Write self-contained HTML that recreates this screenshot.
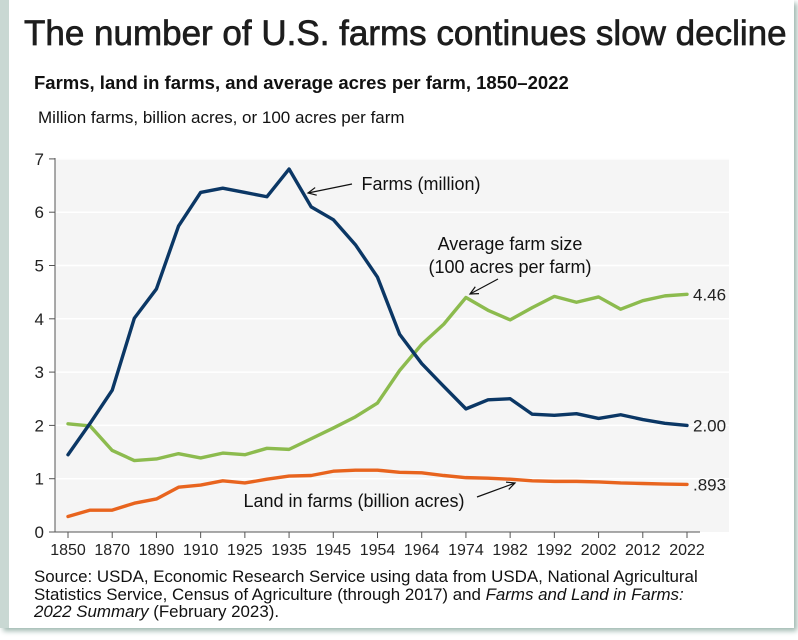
<!DOCTYPE html>
<html><head><meta charset="utf-8"><style>
body{margin:0;width:798px;height:640px;background:#fff;overflow:hidden;font-family:"Liberation Sans",sans-serif;position:relative}
.frame{position:absolute;left:0;top:0;width:785px;height:628px;background:#fff;box-shadow:3px 3px 5px #9fb8b0;border-left:9px solid #c9d8d3}
.t{position:absolute;white-space:nowrap;color:#111}
</style></head><body>
<div class="frame"></div>
<div class="t" style="left:24px;top:14px;font-size:35px;color:#1d1d1d;-webkit-text-stroke:0.7px #1d1d1d">The number of U.S. farms continues slow decline</div>
<div class="t" style="left:34px;top:72px;font-size:18.5px;font-weight:bold">Farms, land in farms, and average acres per farm, 1850–2022</div>
<div class="t" style="left:38px;top:108px;font-size:17px">Million farms, billion acres, or 100 acres per farm</div>
<svg id="c" width="798" height="640" style="position:absolute;left:0;top:0"></svg>
<div class="t" style="left:34px;top:568px;font-size:16.9px;line-height:17.5px">Source: USDA, Economic Research Service using data from USDA, National Agricultural<br>Statistics Service, Census of Agriculture (through 2017) and <i>Farms and Land in Farms:</i><br><i>2022 Summary</i> (February 2023).</div>
<script>
const years=[1850,1860,1870,1880,1890,1900,1910,1920,1925,1930,1935,1940,1945,1950,1954,1959,1964,1969,1974,1978,1982,1987,1992,1997,2002,2007,2012,2017,2022];
const farms=[1.45,2.04,2.66,4.01,4.56,5.74,6.37,6.45,6.37,6.29,6.81,6.10,5.86,5.39,4.78,3.71,3.16,2.73,2.31,2.48,2.50,2.21,2.19,2.22,2.13,2.20,2.11,2.04,2.00];
const avgSize=[2.03,1.99,1.53,1.34,1.37,1.47,1.39,1.48,1.45,1.57,1.55,1.75,1.95,2.16,2.42,3.03,3.52,3.90,4.40,4.16,3.98,4.21,4.42,4.31,4.41,4.18,4.34,4.43,4.46];
const land=[0.29,0.41,0.41,0.54,0.62,0.84,0.88,0.96,0.92,0.99,1.05,1.06,1.14,1.16,1.16,1.12,1.11,1.06,1.02,1.01,0.99,0.96,0.95,0.95,0.94,0.92,0.91,0.90,0.893];
const yTicks=[0,1,2,3,4,5,6,7];
const endLabels=["2.00","4.46",".893"];
const NS="http://www.w3.org/2000/svg";
const svg=document.getElementById('c');
const X=i=>68+i*(619/28);
const Y=v=>532-v*53.3;
function mk(t,a,p){const e=document.createElementNS(NS,t);for(const k in a)e.setAttribute(k,a[k]);(p||svg).appendChild(e);return e;}
const bg=mk('rect',{x:55,y:158,width:674,height:374,fill:'#f5f5f5'});


yTicks.forEach(v=>{
 if(v>0){const g=mk('line',{x1:55,x2:729,y1:Y(v),y2:Y(v),stroke:'#fff','stroke-width':1.5});
 
 }
 const tk=mk('line',{x1:49,x2:55,y1:Y(v),y2:Y(v),stroke:'#555'});
 
 
 const tx=mk('text',{x:44,y:Y(v)+6,'text-anchor':'end','font-size':17,fill:'#222'});
 tx.textContent=v;
 
 
});
const ya=mk('line',{x1:55,x2:55,y1:158,y2:532,stroke:'#555'});


const xa=mk('line',{x1:55,x2:700,y1:532,y2:532,stroke:'#555'});


years.forEach((yr,i)=>{
 if(i%2)return;
 const tk=mk('line',{x1:X(i),x2:X(i),y1:532,y2:538,stroke:'#555'});
 
 
 const tx=mk('text',{x:X(i),y:555,'text-anchor':'middle','font-size':16,fill:'#222'});
 tx.textContent=yr;
 
 
});
function line(d,col,name){
 const p=mk('polyline',{points:d.map((v,i)=>X(i)+','+Y(v)).join(' '),fill:'none',stroke:col,'stroke-width':3.4,'stroke-linejoin':'round','stroke-linecap':'round'});
 
 
}
line(land,'#e8641e','land-line');
line(avgSize,'#8cbb4e','avg-size-line');
line(farms,'#0b3765','farms-line');
[[farms,endLabels[0]],[avgSize,endLabels[1]],[land,endLabels[2]]].forEach(([d,l])=>{
 const t=mk('text',{x:X(28)+6,y:Y(d[28])+6,'font-size':17,fill:'#222'});
 t.textContent=l;
 
 
});
function arrow(x1,y1,x2,y2){
 const a=mk('line',{x1,y1,x2,y2,stroke:'#111','stroke-width':1.2});
 
 
 const ang=Math.atan2(y2-y1,x2-x1),L=9;
 const h=mk('polyline',{points:`${x2-L*Math.cos(ang-0.45)},${y2-L*Math.sin(ang-0.45)} ${x2},${y2} ${x2-L*Math.cos(ang+0.45)},${y2-L*Math.sin(ang+0.45)}`,fill:'none',stroke:'#111','stroke-width':1.2});
 
 
}
function label(x,y,s,n){const t=mk('text',{x,y,'font-size':18,fill:'#111','text-anchor':'middle'});t.textContent=s;}
label(421,190,'Farms (million)','farms-annotation');
arrow(352,184,308,193);
label(510,250,'Average farm size','avg-size-annotation');
label(510,273,'(100 acres per farm)','avg-size-annotation-2');
arrow(498,279,470,294);
label(354,507,'Land in farms (billion acres)','land-annotation');
arrow(477,497,515,483);
</script>
</body></html>
